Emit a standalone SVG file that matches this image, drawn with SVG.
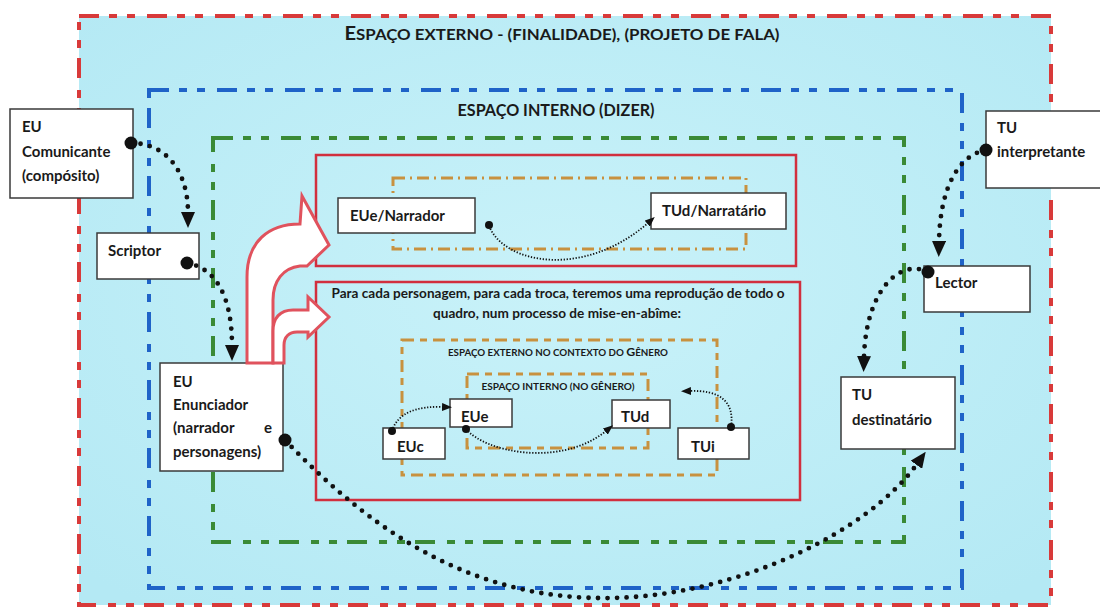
<svg xmlns="http://www.w3.org/2000/svg" width="1100" height="608" viewBox="0 0 1100 608">
<defs>
<radialGradient id="bg" cx="0.5" cy="0.45" r="0.7">
<stop offset="0" stop-color="#c9f2f9"/>
<stop offset="1" stop-color="#b4e9f4"/>
</radialGradient>
<marker id="ah" viewBox="0 0 16 14" refX="1" refY="7" markerWidth="16" markerHeight="14" markerUnits="userSpaceOnUse" orient="auto"><path d="M0,0 L16,7 L0,14 z" fill="#111"/></marker>
<marker id="ahs" viewBox="0 0 10 8" refX="1" refY="4" markerWidth="10" markerHeight="8" markerUnits="userSpaceOnUse" orient="auto"><path d="M0,0 L10,4 L0,8 z" fill="#111"/></marker>
</defs>
<style>
text{font-family:Lato,"Open Sans","Liberation Sans",sans-serif;font-weight:bold;fill:#1a1a1a}
.frame{fill:none;stroke-width:4;stroke-dasharray:20 10 8 10 8 12}
.rbox{fill:none;stroke:#d12f3e;stroke-width:2.5}
.ora{fill:none;stroke:#c8913f;stroke-width:3}
.node{fill:#fff;stroke:#3a3a3a;stroke-width:1.5}
.n{font-size:15px}
.big{fill:none;stroke:#111;stroke-width:4.8;stroke-linecap:round;stroke-dasharray:0 9.5}
.sm{fill:none;stroke:#111;stroke-width:1.8;stroke-dasharray:1.3 1.7}
.barrow{fill:#fff;stroke:#e0525d;stroke-width:3;stroke-linejoin:miter}
</style>
<rect width="1100" height="608" fill="#fff"/>
<g id="espaco-externo">
<rect x="79" y="16" width="972" height="589" fill="url(#bg)" stroke="none"/>
<rect class="frame" x="79" y="16" width="972" height="589" stroke="#d83a3a"/>
<text x="562" y="40" text-anchor="middle" textLength="435" lengthAdjust="spacingAndGlyphs"><tspan font-size="18.5">E</tspan><tspan font-size="15.5">SPAÇO EXTERNO - (FINALIDADE), (PROJETO DE FALA)</tspan></text>
</g>
<g id="espaco-interno">
<rect class="frame" x="149" y="90" width="813" height="498" stroke="#1f63c8"/>
<text x="556" y="116" text-anchor="middle" font-size="17.5" textLength="197" lengthAdjust="spacingAndGlyphs">ESPAÇO INTERNO (DIZER)</text>
</g>
<g id="espaco-verde">
<rect class="frame" x="213" y="138" width="691" height="404" stroke="#3a8a36"/>
</g>
<g id="quadro-narrador">
<rect class="rbox" x="316" y="155" width="480" height="111"/>
<rect class="ora" x="393" y="178" width="353" height="71" stroke-dasharray="12 5 2 5"/>
</g>
<g id="quadro-personagens">
<rect class="rbox" x="316" y="282" width="484" height="218"/>
<text x="558" y="298" text-anchor="middle" font-size="12.5" textLength="453" lengthAdjust="spacingAndGlyphs">Para cada personagem, para cada troca, teremos uma reprodução de todo o</text>
<text x="557" y="318" text-anchor="middle" font-size="12.5" textLength="248" lengthAdjust="spacingAndGlyphs">quadro, num processo de mise-en-abîme:</text>
</g>
<g id="externo-genero">
<rect class="ora" x="402" y="340" width="315" height="135" stroke-dasharray="12 6 7 6"/>
<text x="558" y="356" text-anchor="middle" textLength="220" lengthAdjust="spacingAndGlyphs"><tspan font-size="9.5">ESPAÇO EXTERNO NO CONTEXTO DO </tspan><tspan font-size="12">G</tspan><tspan font-size="9.5">ÊNERO</tspan></text>
</g>
<g id="interno-genero">
<rect class="ora" x="467" y="374" width="181" height="74" stroke-dasharray="12 6 7 6"/>
<text x="558" y="390" text-anchor="middle" font-size="10" textLength="153" lengthAdjust="spacingAndGlyphs">ESPAÇO INTERNO (NO GÊNERO)</text>
</g>
<g id="eu-comunicante">
<rect class="node" x="10" y="109" width="123" height="89"/>
<text class="n" x="22" y="132">EU</text>
<text class="n" x="22" y="157">Comunicante</text>
<text class="n" x="22" y="181">(compósito)</text>
</g>
<g id="scriptor">
<rect class="node" x="97" y="233" width="102" height="46"/>
<text class="n" x="108" y="256">Scriptor</text>
</g>
<g id="eu-enunciador">
<rect class="node" x="160" y="363" width="123" height="108"/>
<text class="n" x="173" y="387">EU</text>
<text class="n" x="173" y="410">Enunciador</text>
<text class="n" x="173" y="433">(narrador <tspan x="264">e</tspan></text>
<text class="n" x="173" y="457">personagens)</text>
</g>
<g id="eue-narrador">
<rect class="node" x="338" y="198" width="137" height="35"/>
<text class="n" x="350" y="221">EUe/Narrador</text>
</g>
<g id="tud-narratario">
<rect class="node" x="651" y="193" width="135" height="36"/>
<text class="n" x="662" y="216">TUd/Narratário</text>
</g>
<g id="euc">
<rect class="node" x="383" y="428" width="62" height="31"/>
<text class="n" x="397" y="452">EUc</text>
</g>
<g id="eue">
<rect class="node" x="450" y="399" width="62" height="28"/>
<text class="n" x="461" y="422">EUe</text>
</g>
<g id="tud">
<rect class="node" x="612" y="400" width="58" height="28"/>
<text class="n" x="621" y="422">TUd</text>
</g>
<g id="tui">
<rect class="node" x="678" y="428" width="71" height="31"/>
<text class="n" x="691" y="452">TUi</text>
</g>
<g id="tu-interpretante">
<rect class="node" x="986" y="111" width="120" height="77"/>
<text class="n" x="997" y="133">TU</text>
<text class="n" x="997" y="157">interpretante</text>
</g>
<g id="lector">
<rect class="node" x="924" y="266" width="106" height="46"/>
<text class="n" x="935" y="288">Lector</text>
</g>
<g id="tu-destinatario">
<rect class="node" x="841" y="377" width="114" height="72"/>
<text class="n" x="852" y="400">TU</text>
<text class="n" x="852" y="425">destinatário</text>
</g>
<g id="setas-enunciador">
<path class="barrow" d="M247 363 L247 277 C247 242 268 224 300 224 L302 196 L329 245 L307 266 L300 266 C283 268 273 281 273 300 L273 363 Z"/>
<path class="barrow" d="M273 363 L273 331 C273 318 280 310 293 310 L308 310 L308 297 L329 317 L308 337 L308 332 L297 332 C289 332 284 337 284 345 L284 363 Z"/>
</g>
<g id="connectors">
<path class="big" d="M131 143 C165 143 188 170 188 213" marker-end="url(#ah)"/>
<circle cx="131" cy="143" r="6.5" fill="#111"/>
<path class="big" d="M187 263 C215 268 232 295 232 346" marker-end="url(#ah)"/>
<circle cx="187" cy="263" r="6.5" fill="#111"/>
<path class="big" d="M285 440 C380 540 480 600 610 598 C740 596 870 530 917 464" marker-end="url(#ah)"/>
<circle cx="285" cy="440" r="6.5" fill="#111"/>
<path class="big" d="M986 150 C960 155 940 185 939 242" marker-end="url(#ah)"/>
<circle cx="986" cy="150" r="6.5" fill="#111"/>
<path class="big" d="M928 272 C900 258 866 290 864 357" marker-end="url(#ah)"/>
<circle cx="928" cy="272" r="6.5" fill="#111"/>
<path class="sm" d="M489 226 C505 265 585 278 648 223" marker-end="url(#ahs)"/>
<circle cx="489" cy="225" r="4" fill="#111"/>
<path class="sm" d="M392 431 C398 412 418 406 443 407" marker-end="url(#ahs)"/>
<circle cx="392" cy="431" r="4" fill="#111"/>
<path class="sm" d="M466 429 C485 452 560 468 606 431" marker-end="url(#ahs)"/>
<circle cx="466" cy="429" r="4" fill="#111"/>
<path class="sm" d="M731 427 C735 400 718 390 690 391" marker-end="url(#ahs)"/>
<circle cx="731" cy="427" r="4" fill="#111"/>
</g>
</svg>
